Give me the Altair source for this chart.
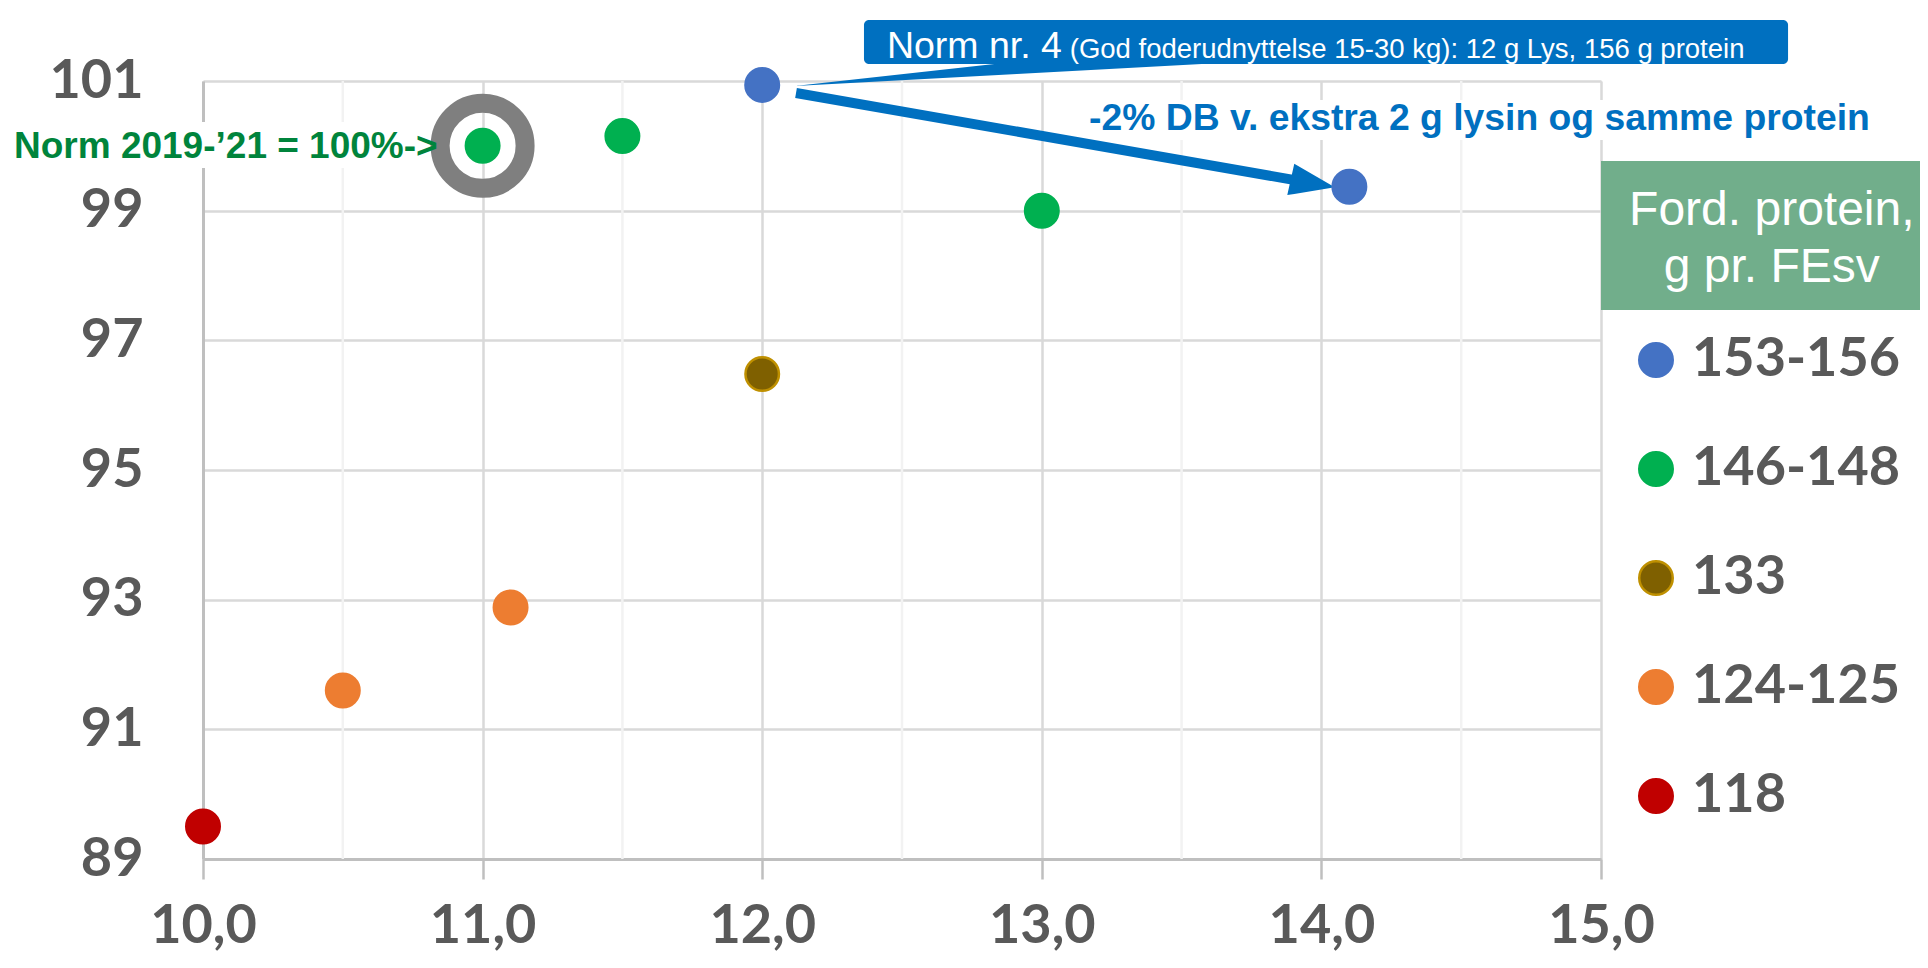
import altair as alt
import pandas as pd

# ---------------- data ----------------
lysin = [10.0, 10.5, 11.1, 12.0, 11.0, 11.5, 13.0, 12.0, 14.1]
db_index = [89.5, 91.6, 92.88, 96.48, 100.0, 100.15, 99.0, 100.94, 99.37]
protein = ["118", "124-125", "124-125", "133", "146-148", "146-148", "146-148", "153-156", "153-156"]

groups = ["153-156", "146-148", "133", "124-125", "118"]
fill_colors = ["#4472C4", "#00B050", "#7F6000", "#ED7D31", "#C00000"]
stroke_colors = ["#4472C4", "#00B050", "#BF9000", "#ED7D31", "#C00000"]

x_ticks = [10, 11, 12, 13, 14, 15]
x_minor = [10.5, 11.5, 12.5, 13.5, 14.5]
y_ticks = [89, 91, 93, 95, 97, 99, 101]

ring_x = [11.0]
ring_y = [100.0]

# annotations (data coordinates)
norm_text = ["Norm 2019-\u201921 = 100%->"]
norm_pos = [9.324, 99.812]
norm_bg = [9.30, 10.95, 100.368, 99.658]

db_text = ["-2% DB v. ekstra 2 g lysin og samme protein"]
db_pos = [13.169, 100.244]
db_bg = [13.15, 15.96, 100.707, 100.09]

arrow_shaft = [12.121, 100.815, 13.90, 99.475]
arrow_head_x = [13.878, 13.903, 14.048]
arrow_head_y = [99.240, 99.725, 99.362]
arrow_head_y2 = [99.240, 99.259, 99.362]

callout_box = [12.364, 15.669, 101.941, 101.262]
callout_tail_x = [12.117, 12.911, 13.737]
callout_tail_y = [100.923, 101.30, 101.30]
callout_tail_y2 = [100.923, 101.108, 101.30]
callout_big = ["Norm nr. 4"]
callout_big_pos = [12.446, 101.355]
callout_small = ["(God foderudnyttelse 15-30 kg): 12 g Lys, 156 g protein"]
callout_small_pos = [13.10, 101.355]

legend_title = ["Ford. protein,", "g pr. FEsv"]
legend_title_x = [15.611, 15.611]
legend_title_y = [98.779, 97.900]
legend_box = [15.0, 16.2, 99.766, 97.468]

BLUE = "#0070C0"
GREEN_TXT = "#00843C"

# ---------------- scales ----------------
xs = alt.Scale(domain=[10, 15], nice=False, zero=False)
ys = alt.Scale(domain=[89, 101], nice=False, zero=False)

x_axis = alt.Axis(
    values=x_ticks, title=None, labelFlush=False,
    labelExpr="replace(format(datum.value, '.1f'), '.', ',')",
    labelFont="Lato", labelFontWeight="bold", labelFontSize=54, labelColor="#595959",
    labelPadding=20, tickSize=20, tickColor="#BFBFBF", tickWidth=2.5,
    domainColor="#BFBFBF", domainWidth=3, gridColor="#D9D9D9", gridWidth=2.5,
)
y_axis = alt.Axis(
    values=y_ticks, title=None, format="d",
    labelFont="Lato", labelFontWeight="bold", labelFontSize=54, labelColor="#595959",
    labelPadding=60, ticks=False,
    domainColor="#BFBFBF", domainWidth=3, gridColor="#D9D9D9", gridWidth=2.5,
)

def df(**kw):
    return pd.DataFrame(kw)

# minor vertical gridlines
minor = alt.Chart(df(x=x_minor)).mark_rule(color="#F2F2F2", strokeWidth=2.5).encode(
    x=alt.X("x:Q", scale=xs, axis=x_axis)
)

def rect_layer(vals, color, radius=0):
    return alt.Chart(df(x=[vals[0]], x2=[vals[1]], y=[vals[2]], y2=[vals[3]])).mark_rect(
        color=color, cornerRadius=radius
    ).encode(x=alt.X("x:Q", scale=xs), x2="x2:Q", y=alt.Y("y:Q", scale=ys, axis=y_axis), y2="y2:Q")

norm_bg_l = rect_layer(norm_bg, "white")
db_bg_l = rect_layer(db_bg, "white")

ring = alt.Chart(df(x=ring_x, y=ring_y)).mark_point(
    shape="circle", filled=False, size=7225, strokeWidth=19, color="#7F7F7F", opacity=1
).encode(x=alt.X("x:Q", scale=xs), y=alt.Y("y:Q", scale=ys))

shaft = alt.Chart(df(x=[arrow_shaft[0]], y=[arrow_shaft[1]], x2=[arrow_shaft[2]], y2=[arrow_shaft[3]])).mark_rule(
    color=BLUE, strokeWidth=10, strokeCap="butt"
).encode(x=alt.X("x:Q", scale=xs), y=alt.Y("y:Q", scale=ys), x2="x2:Q", y2="y2:Q")

head = alt.Chart(df(x=arrow_head_x, y=arrow_head_y, y2=arrow_head_y2)).mark_area(
    color=BLUE, orient="vertical", opacity=1
).encode(x=alt.X("x:Q", scale=xs), y=alt.Y("y:Q", scale=ys), y2="y2:Q")

tail = alt.Chart(df(x=callout_tail_x, y=callout_tail_y, y2=callout_tail_y2)).mark_area(
    color=BLUE, orient="vertical", opacity=1
).encode(x=alt.X("x:Q", scale=xs), y=alt.Y("y:Q", scale=ys), y2="y2:Q")

cbox = rect_layer(callout_box, BLUE, radius=5)

def text_layer(texts, xs_, ys_, color, size, weight="normal", align="left", font="Liberation Sans"):
    return alt.Chart(df(t=texts, x=xs_, y=ys_)).mark_text(
        color=color, fontSize=size, fontWeight=weight, align=align, baseline="alphabetic", font=font
    ).encode(x=alt.X("x:Q", scale=xs), y=alt.Y("y:Q", scale=ys), text="t:N")

norm_t = text_layer(norm_text, [norm_pos[0]], [norm_pos[1]], GREEN_TXT, 37, "bold")
db_t = text_layer(db_text, [db_pos[0]], [db_pos[1]], BLUE, 37.3, "bold")
cbig = text_layer(callout_big, [callout_big_pos[0]], [callout_big_pos[1]], "white", 37.5)
csmall = text_layer(callout_small, [callout_small_pos[0]], [callout_small_pos[1]], "white", 27.5)

lbox = rect_layer(legend_box, "#71AE8B")
ltitle = text_layer(legend_title, legend_title_x, legend_title_y, "white", 48, align="center")

legend = alt.Legend(
    orient="none", legendX=1426, legendY=252, title=None, padding=0,
    labelFont="Lato", labelFontWeight="bold", labelFontSize=54, labelColor="#595959",
    labelLimit=500,
    symbolType="circle", symbolSize=1122, symbolStrokeWidth=2.5, symbolOpacity=1,
    rowPadding=55, labelOffset=9,
)

points = alt.Chart(df(x=lysin, y=db_index, g=protein)).mark_point(
    filled=True, shape="circle", size=1122, strokeWidth=2.5, opacity=1
).encode(
    x=alt.X("x:Q", scale=xs),
    y=alt.Y("y:Q", scale=ys),
    fill=alt.Fill("g:N", scale=alt.Scale(domain=groups, range=fill_colors), legend=legend, sort=groups),
    stroke=alt.Stroke("g:N", scale=alt.Scale(domain=groups, range=stroke_colors), legend=legend, sort=groups),
)

chart = alt.layer(
    minor, norm_bg_l, db_bg_l, ring, shaft, head, tail, cbox, cbig, csmall,
    norm_t, db_t, lbox, ltitle, points
).properties(
    width=1398, height=778,
    padding={"left": 195, "top": 73, "right": 319, "bottom": 101},
    autosize=alt.AutoSizeParams(type="none"),
).configure_view(stroke=None).configure(background="white")

chart.save("out.html", embed_options={"renderer": "svg", "actions": False})
